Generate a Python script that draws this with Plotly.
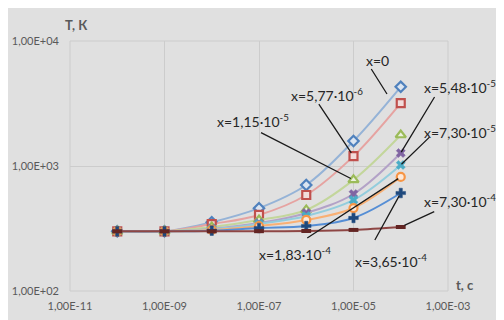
import math
import plotly.graph_objects as go

# time, s
t = [1e-10, 1e-9, 1e-8, 1e-7, 1e-6, 1e-5, 1e-4]

# temperature, K, for each depth x
T_x0      = [300, 300, 355, 460, 705, 1585, 4300]
T_x577e6  = [300, 300, 343, 406, 586, 1200, 3190]
T_x115e5  = [300, 300, 325, 370, 445, 775, 1770]
T_x548e5  = [300, 300, 315, 350, 421, 597, 1270]
T_x730e5  = [300, 300, 312, 344, 398, 535, 1020]
T_x183e4  = [300, 300, 308, 331, 370, 461, 817]
T_x365e4  = [300, 300, 304, 319, 331, 384, 608]
T_x730e4  = [300, 300, 300, 301, 302, 308, 325]

labels = ["x=0", "x=5,77·10<sup>-6</sup>", "x=1,15·10<sup>-5</sup>",
          "x=5,48·10<sup>-5</sup>", "x=7,30·10<sup>-5</sup>",
          "x=1,83·10<sup>-4</sup>", "x=3,65·10<sup>-4</sup>",
          "x=7,30·10<sup>-4</sup>"]

x_tickvals = [1e-11, 1e-9, 1e-7, 1e-5, 1e-3]
x_ticktext = ["1,00E-11", "1,00E-09", "1,00E-07", "1,00E-05", "1,00E-03"]
y_tickvals = [1e2, 1e3, 1e4]
y_ticktext = ["1,00E+02", "1,00E+03", "1,00E+04"]

series = [T_x0, T_x577e6, T_x115e5, T_x548e5, T_x730e5, T_x183e4, T_x365e4, T_x730e4]

styles = [
    dict(line="#95b3d7", mk="diamond", mc="#dbe5f1", ml="#4f81bd", ms=8, mlw=2.2),
    dict(line="#e6a3a1", mk="square", mc="#f2dcdb", ml="#c0504d", ms=8, mlw=2.2),
    dict(line="#c3d69b", mk="triangle-up", mc="#ebf1de", ml="#9bbb59", ms=9, mlw=2.2),
    dict(line="#b3a2c7", mk="x", mc="#8064a2", ml="#8064a2", ms=8, mlw=0.5),
    dict(line="#93cddd", mk="x", mc="#4bacc6", ml="#4bacc6", ms=8, mlw=0.5),
    dict(line="#f9b074", mk="circle", mc="#fde9d9", ml="#f79646", ms=8, mlw=2.2),
    dict(line="#558ed5", mk="cross", mc="#1f497d", ml="#1f497d", ms=8, mlw=0.5),
    dict(line="#8e4644", mk="line-ew-open", mc="#632523", ml="#632523", ms=7, mlw=4),
]

fig = go.Figure()

for vals, st, lab in zip(series, styles, labels):
    fig.add_trace(go.Scatter(
        x=t, y=vals, mode="lines+markers", name=lab,
        line=dict(color=st["line"], width=2, shape="spline", smoothing=1),
        marker=dict(symbol=st["mk"], size=st["ms"], color=st["mc"],
                    line=dict(color=st["ml"], width=st["mlw"])),
        showlegend=False,
    ))

def lg(v):
    return math.log10(v)

# leader lines: (series index, point index, ax, ay, standoff)
leaders = [
    (1, 5, -36, -54, 4),
    (2, 5, -94, -48, 3),
    (3, 6, 35, -58, 1),
    (4, 6, 30, -29, 1),
    (7, 6, 35, -16, 4),
    (5, 6, -95, 62, 3),
    (6, 6, -27, 49, 3),
]
for si, pi, ax, ay, so in leaders:
    fig.add_annotation(x=lg(t[pi]), y=lg(series[si][pi]), xref="x", yref="y",
                       text=" ", font=dict(size=1), showarrow=True, arrowhead=0,
                       arrowwidth=1.3, arrowcolor="#1a1a1a", ax=ax, ay=ay,
                       standoff=so)
# leader for x=0 pointing to the curve
fig.add_annotation(x=0.8386, y=0.788, xref="paper", yref="paper",
                   text=" ", font=dict(size=1), showarrow=True, arrowhead=0,
                   arrowwidth=1.3, arrowcolor="#1a1a1a", ax=-17, ay=-27)

# label texts
label_pos = [
    (0, 0.8148, 0.92),
    (1, 0.6799, 0.788),
    (2, 0.4841, 0.68),
    (3, 1.0317, 0.82),
    (4, 1.0317, 0.64),
    (7, 1.0317, 0.364),
    (5, 0.5952, 0.152),
    (6, 0.8492, 0.124),
]
for li, px, py in label_pos:
    fig.add_annotation(x=px, y=py, xref="paper", yref="paper", text=labels[li],
                       xanchor="center", yanchor="middle", showarrow=False,
                       font=dict(size=14, color="#262626", family="Lato"))

# axis titles
fig.add_annotation(x=0.016, y=1.064, xref="paper", yref="paper", text="<b>T, К</b>",
                   xanchor="center", yanchor="middle", showarrow=False,
                   font=dict(size=13, color="#595959", family="Lato"))
fig.add_annotation(x=1.045, y=0.024, xref="paper", yref="paper", text="<b>t, с</b>",
                   xanchor="center", yanchor="middle", showarrow=False,
                   font=dict(size=13, color="#595959", family="Lato"))

fig.update_xaxes(type="log", range=[-11, -3], tickvals=x_tickvals, ticktext=x_ticktext,
                 showgrid=True, gridcolor="#cccccc", gridwidth=1, zeroline=False,
                 showline=False, ticks="", ticklabelstandoff=7, automargin=False,
                 tickfont=dict(size=11, color="#595959", family="Lato"))
fig.update_yaxes(type="log", range=[2, 4], tickvals=y_tickvals, ticktext=y_ticktext,
                 showgrid=True, gridcolor="#cccccc", gridwidth=1, zeroline=False,
                 showline=False, ticks="", ticklabelstandoff=10, automargin=False,
                 tickfont=dict(size=11, color="#595959", family="Lato"))

fig.add_shape(type="rect", xref="paper", yref="paper", x0=0, x1=1, y0=0, y1=1,
              line=dict(color="#cccccc", width=1), layer="below")

# the page body keeps its default 8px margin, so the figure is sized to fit
fig.update_layout(
    width=496, height=312,
    margin=dict(l=62, r=56, t=33, b=29),
    paper_bgcolor="#e0e0e0", plot_bgcolor="#e0e0e0",
    font=dict(family="Lato"),
)

fig.write_html("out.html")
